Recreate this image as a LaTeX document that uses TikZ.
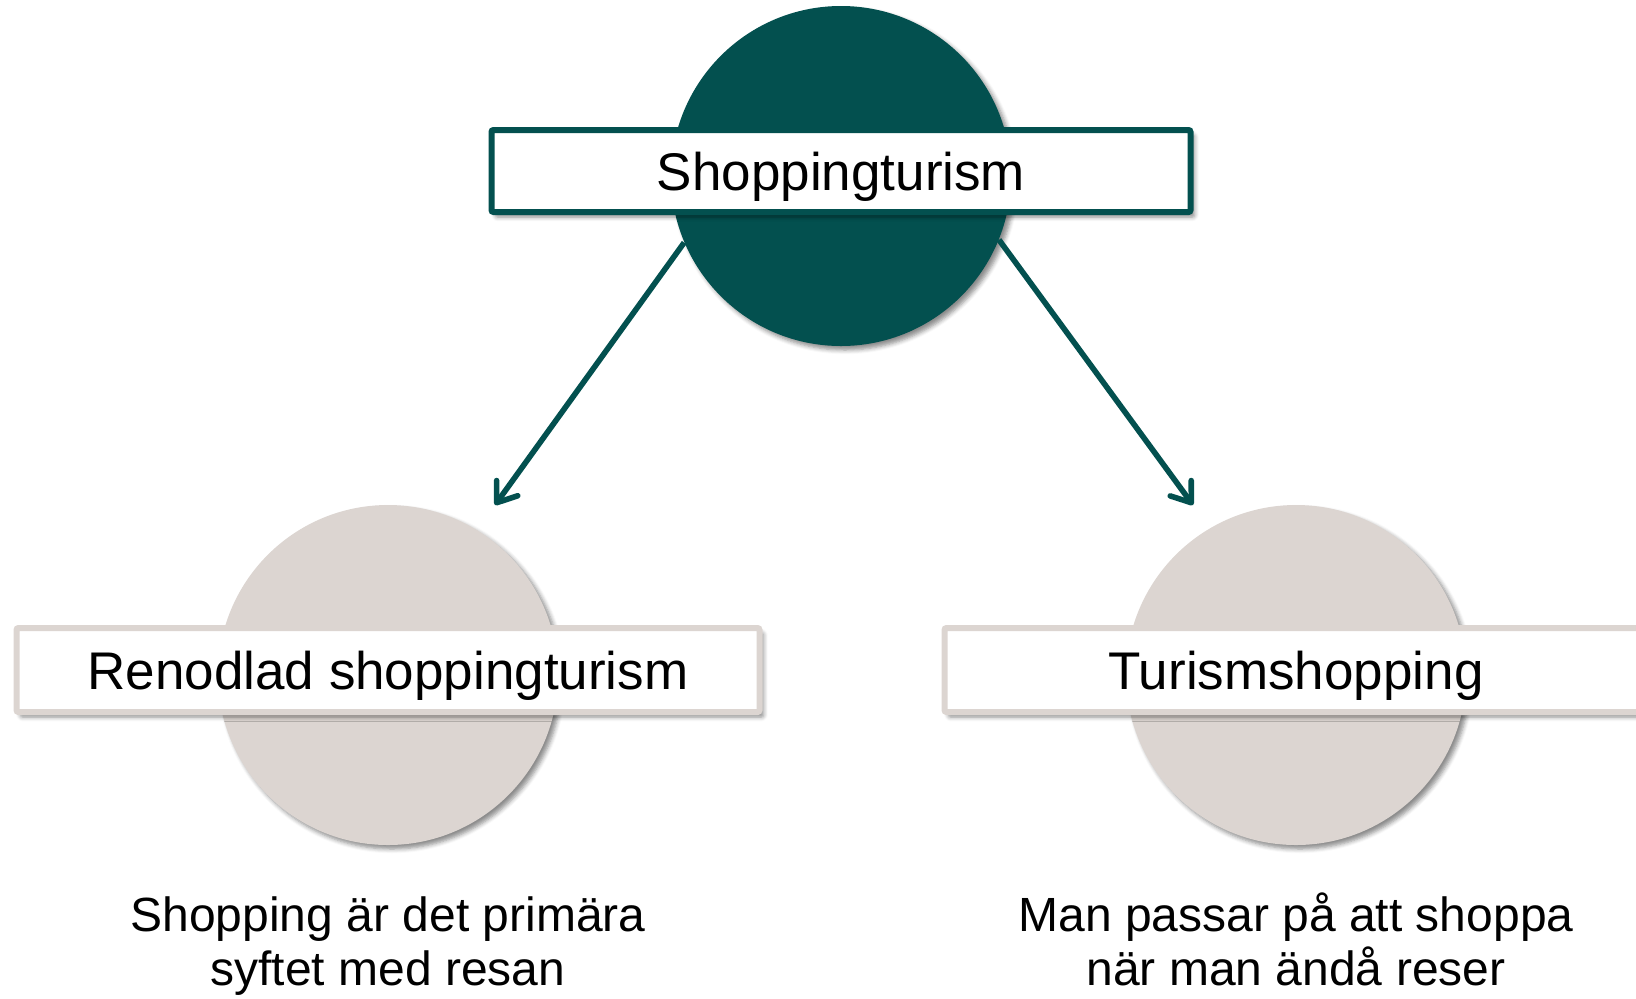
\documentclass[tikz,border=0pt]{standalone}
\usepackage{fontspec}
\setmainfont{Liberation Sans}
\usetikzlibrary{arrows.meta,shadows.blur}
\definecolor{shopteal}{RGB}{3,80,79}
\definecolor{shopsand}{RGB}{220,213,209}
\tikzset{
  tealdisc/.style={circle, fill=shopteal, minimum size=170pt, inner sep=0pt,
    blur shadow={shadow xshift=2pt, shadow yshift=-2pt, shadow blur steps=5, shadow opacity=45}},
  sanddisc/.style={circle, fill=shopsand, minimum size=170pt, inner sep=0pt,
    blur shadow={shadow xshift=2pt, shadow yshift=-2pt, shadow blur steps=5, shadow opacity=45}},
  titlebox/.style={rectangle, fill=white, line width=3pt, rounded corners=1pt,
    minimum height=41pt, inner sep=0pt,
    blur shadow={shadow xshift=2pt, shadow yshift=-2.5pt, shadow blur steps=5, shadow opacity=45}},
  titletext/.style={inner sep=0pt, text height=19pt, text depth=0pt,
    font=\fontsize{26.5}{30}\selectfont},
  note/.style={align=center, font=\fontsize{24}{26.8}\selectfont},
  pil/.style={draw=shopteal, line width=2.8pt, -{Straight Barb[length=9pt,width=13pt,round]}}
}
\begin{document}
\begin{tikzpicture}[x=0.5pt, y=-0.5pt]
  \clip (0,0) rectangle (1636,998);

  % Draw the top circle and its title
  \node[tealdisc] (top) at (841,176) {};
  \node[titlebox, draw=shopteal, minimum width=349.5pt] (topbox) at (841,171) {};
  \node[titletext] (toptitle) at (841,171) {Shoppingturism};

  % Draw the two lower circles, titles and notes
  \foreach \n/\x/\bx/\title/\desc in {l/388/388/Renodlad shoppingturism/Shopping är det primära\\syftet med resan, r/1296/1316/Turismshopping/Man passar på att shoppa\\när man ändå reser} {
    \node[sanddisc] (\n circ) at (\x,675) {};
    \node[titlebox, draw=shopsand, minimum width=371.5pt, minimum height=42pt] (\n box) at (\bx,670) {};
    \node[titletext] (\n title) at (\x,670) {\title};
    \node[note, anchor=base] (\n note) at (\x,985) {\desc};
  }

  % Draw the arrows
  \coordinate (ltip) at (495,505);
  \coordinate (rtip) at (1193,505);
  \draw[pil] (top.203) -- (ltip);
  \draw[pil] (top.-22) -- (rtip);
\end{tikzpicture}
\end{document}
